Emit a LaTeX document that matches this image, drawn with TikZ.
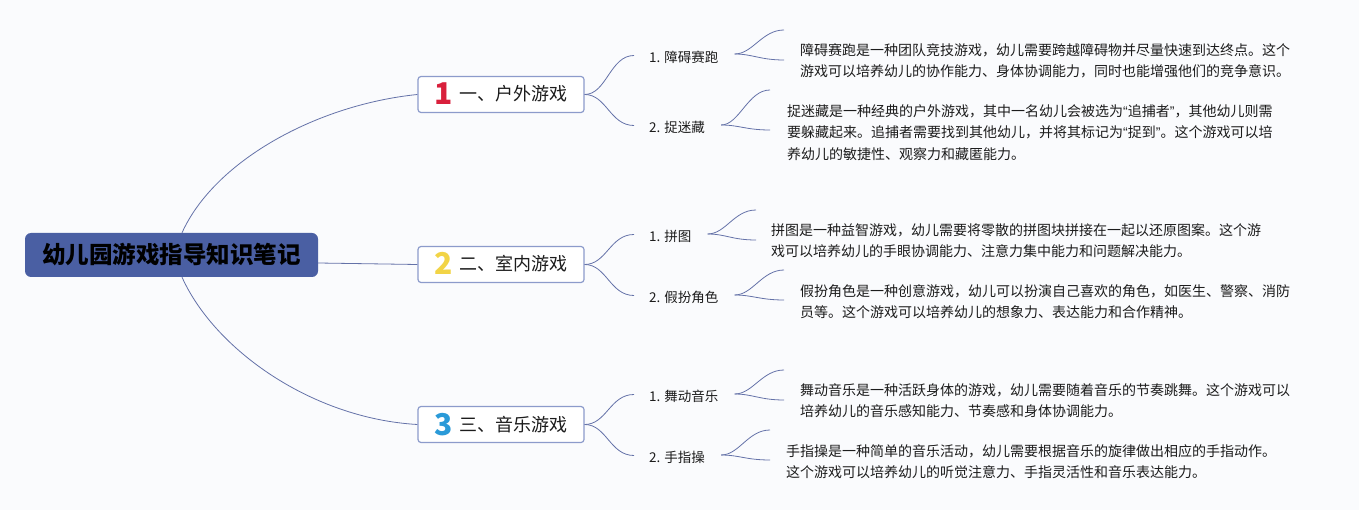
\documentclass[tikz,border=0pt]{standalone}
\usepackage{fontspec}
\setmainfont{Noto Sans CJK SC}
\newfontfamily\latq{Liberation Sans}
\usetikzlibrary{calc}
\definecolor{bgc}{HTML}{FAFBFD}
\definecolor{rootc}{HTML}{4A5FA3}
\definecolor{linec}{HTML}{6472A8}
\definecolor{boxc}{HTML}{8C9BCB}
\definecolor{numa}{HTML}{D9203C}
\definecolor{numb}{HTML}{F2D446}
\definecolor{numc}{HTML}{2A9AD8}
\definecolor{txt}{HTML}{1C1C1C}
\tikzset{
  conn/.style={draw=linec, line width=0.8pt},
  rootbox/.style={fill=rootc, rounded corners=6pt, minimum width=293pt, minimum height=44pt, inner sep=0pt,
    font=\fontsize{23.5}{26}\selectfont\bfseries, text=black},
  topicbox/.style={draw=boxc, line width=1.2pt, fill=white, rounded corners=3pt, minimum width=166pt, minimum height=36pt,
    inner sep=0pt, text height=13pt, text depth=0pt, font=\fontsize{18}{20}\selectfont, text=txt},
  leaf/.style={anchor=west, inner sep=0pt, font=\fontsize{13.5}{16}\selectfont, text=txt},
  detail/.style={anchor=north west, inner sep=0pt, align=left, font=\fontsize{14}{21.5}\selectfont, text=txt},
}
\newcommand{\numtag}[2]{\raisebox{-4pt}{\textcolor{#1}{\fontsize{30}{30}\selectfont\bfseries #2}}\hspace{7pt}}
\newcommand{\myoq}{{\latq “}}
\newcommand{\mycq}{{\latq ”}}
\begin{document}
\begin{tikzpicture}[x=1pt,y=-1pt]
\fill[bgc] (0,0) rectangle (1359,510);
\useasboundingbox (0,0) rectangle (1359,510);

\node[rootbox] (root) at (171.5,255) {幼儿园游戏指导知识笔记};

\node[topicbox] (b1) at (501,94.5) {\numtag{numa}{1}一、户外游戏};
\node[topicbox] (b2) at (501,264.5) {\numtag{numb}{2}二、室内游戏};
\node[topicbox] (b3) at (501,424.5) {\numtag{numc}{3}三、音乐游戏};

\draw[conn] ([xshift=10.5pt]root.north) .. controls +(33,-73) and +(-99,10) .. (b1.west);
\draw[conn] ([yshift=-8pt]root.east) -- (b2.west);
\draw[conn] ([xshift=10.5pt]root.south) .. controls +(33,73) and +(-105,-6) .. (b3.west);

\node[leaf] (l11) at (649,57) {1. 障碍赛跑};
\node[leaf] (l12) at (649,127) {2. 捉迷藏};
\node[leaf] (l21) at (649,236) {1. 拼图};
\node[leaf] (l22) at (649,297) {2. 假扮角色};
\node[leaf] (l31) at (649,396) {1. 舞动音乐};
\node[leaf] (l32) at (649,457) {2. 手指操};

\foreach \b/\l in {b1/l11,b1/l12,b2/l21,b2/l22,b3/l31,b3/l32}
  \draw[conn] (\b.east) .. controls +(22,0) and +(-24,0) .. ([xshift=-15pt,yshift=1.5pt]\l.west);

\node[detail] (d11) at (800,43) {障碍赛跑是一种团队竞技游戏，幼儿需要跨越障碍物并尽量快速到达终点。这个\\游戏可以培养幼儿的协作能力、身体协调能力，同时也能增强他们的竞争意识。};
\node[detail] (d12) at (787,104) {捉迷藏是一种经典的户外游戏，其中一名幼儿会被选为\myoq 追捕者\mycq ，其他幼儿则需\\要躲藏起来。追捕者需要找到其他幼儿，并将其标记为\myoq 捉到\mycq 。这个游戏可以培\\养幼儿的敏捷性、观察力和藏匿能力。};
\node[detail] (d21) at (771,223) {拼图是一种益智游戏，幼儿需要将零散的拼图块拼接在一起以还原图案。这个游\\戏可以培养幼儿的手眼协调能力、注意力集中能力和问题解决能力。};
\node[detail] (d22) at (800,284) {假扮角色是一种创意游戏，幼儿可以扮演自己喜欢的角色，如医生、警察、消防\\员等。这个游戏可以培养幼儿的想象力、表达能力和合作精神。};
\node[detail] (d31) at (800,383) {舞动音乐是一种活跃身体的游戏，幼儿需要随着音乐的节奏跳舞。这个游戏可以\\培养幼儿的音乐感知能力、节奏感和身体协调能力。};
\node[detail] (d32) at (786,444) {手指操是一种简单的音乐活动，幼儿需要根据音乐的旋律做出相应的手指动作。\\这个游戏可以培养幼儿的听觉注意力、手指灵活性和音乐表达能力。};

% brackets from leaf labels
\coordinate (s11) at ([xshift=16pt,yshift=3pt]l11.east);
\coordinate (u11) at (784,30);  \coordinate (w11) at (784,60);
\coordinate (s12) at ([xshift=16pt,yshift=2pt]l12.east);
\coordinate (u12) at (770,90);  \coordinate (w12) at (770,130);
\coordinate (s21) at ([xshift=16pt,yshift=2pt]l21.east);
\coordinate (u21) at (756,210); \coordinate (w21) at (756,240);
\coordinate (s22) at ([xshift=16pt,yshift=2pt]l22.east);
\coordinate (u22) at (784,270); \coordinate (w22) at (784,300);
\coordinate (s31) at ([xshift=16pt,yshift=2pt]l31.east);
\coordinate (u31) at (784,370); \coordinate (w31) at (784,400);
\coordinate (s32) at ([xshift=16pt,yshift=2pt]l32.east);
\coordinate (u32) at (770,430); \coordinate (w32) at (770,460);
\foreach \k in {11,12,21,22,31,32}{
  \draw[conn] (s\k) .. controls +(18,0) and +(-22,0) .. (u\k);
  \draw[conn] (s\k) .. controls +(18,0) and +(-24,0) .. (w\k);
}
\end{tikzpicture}
\end{document}
